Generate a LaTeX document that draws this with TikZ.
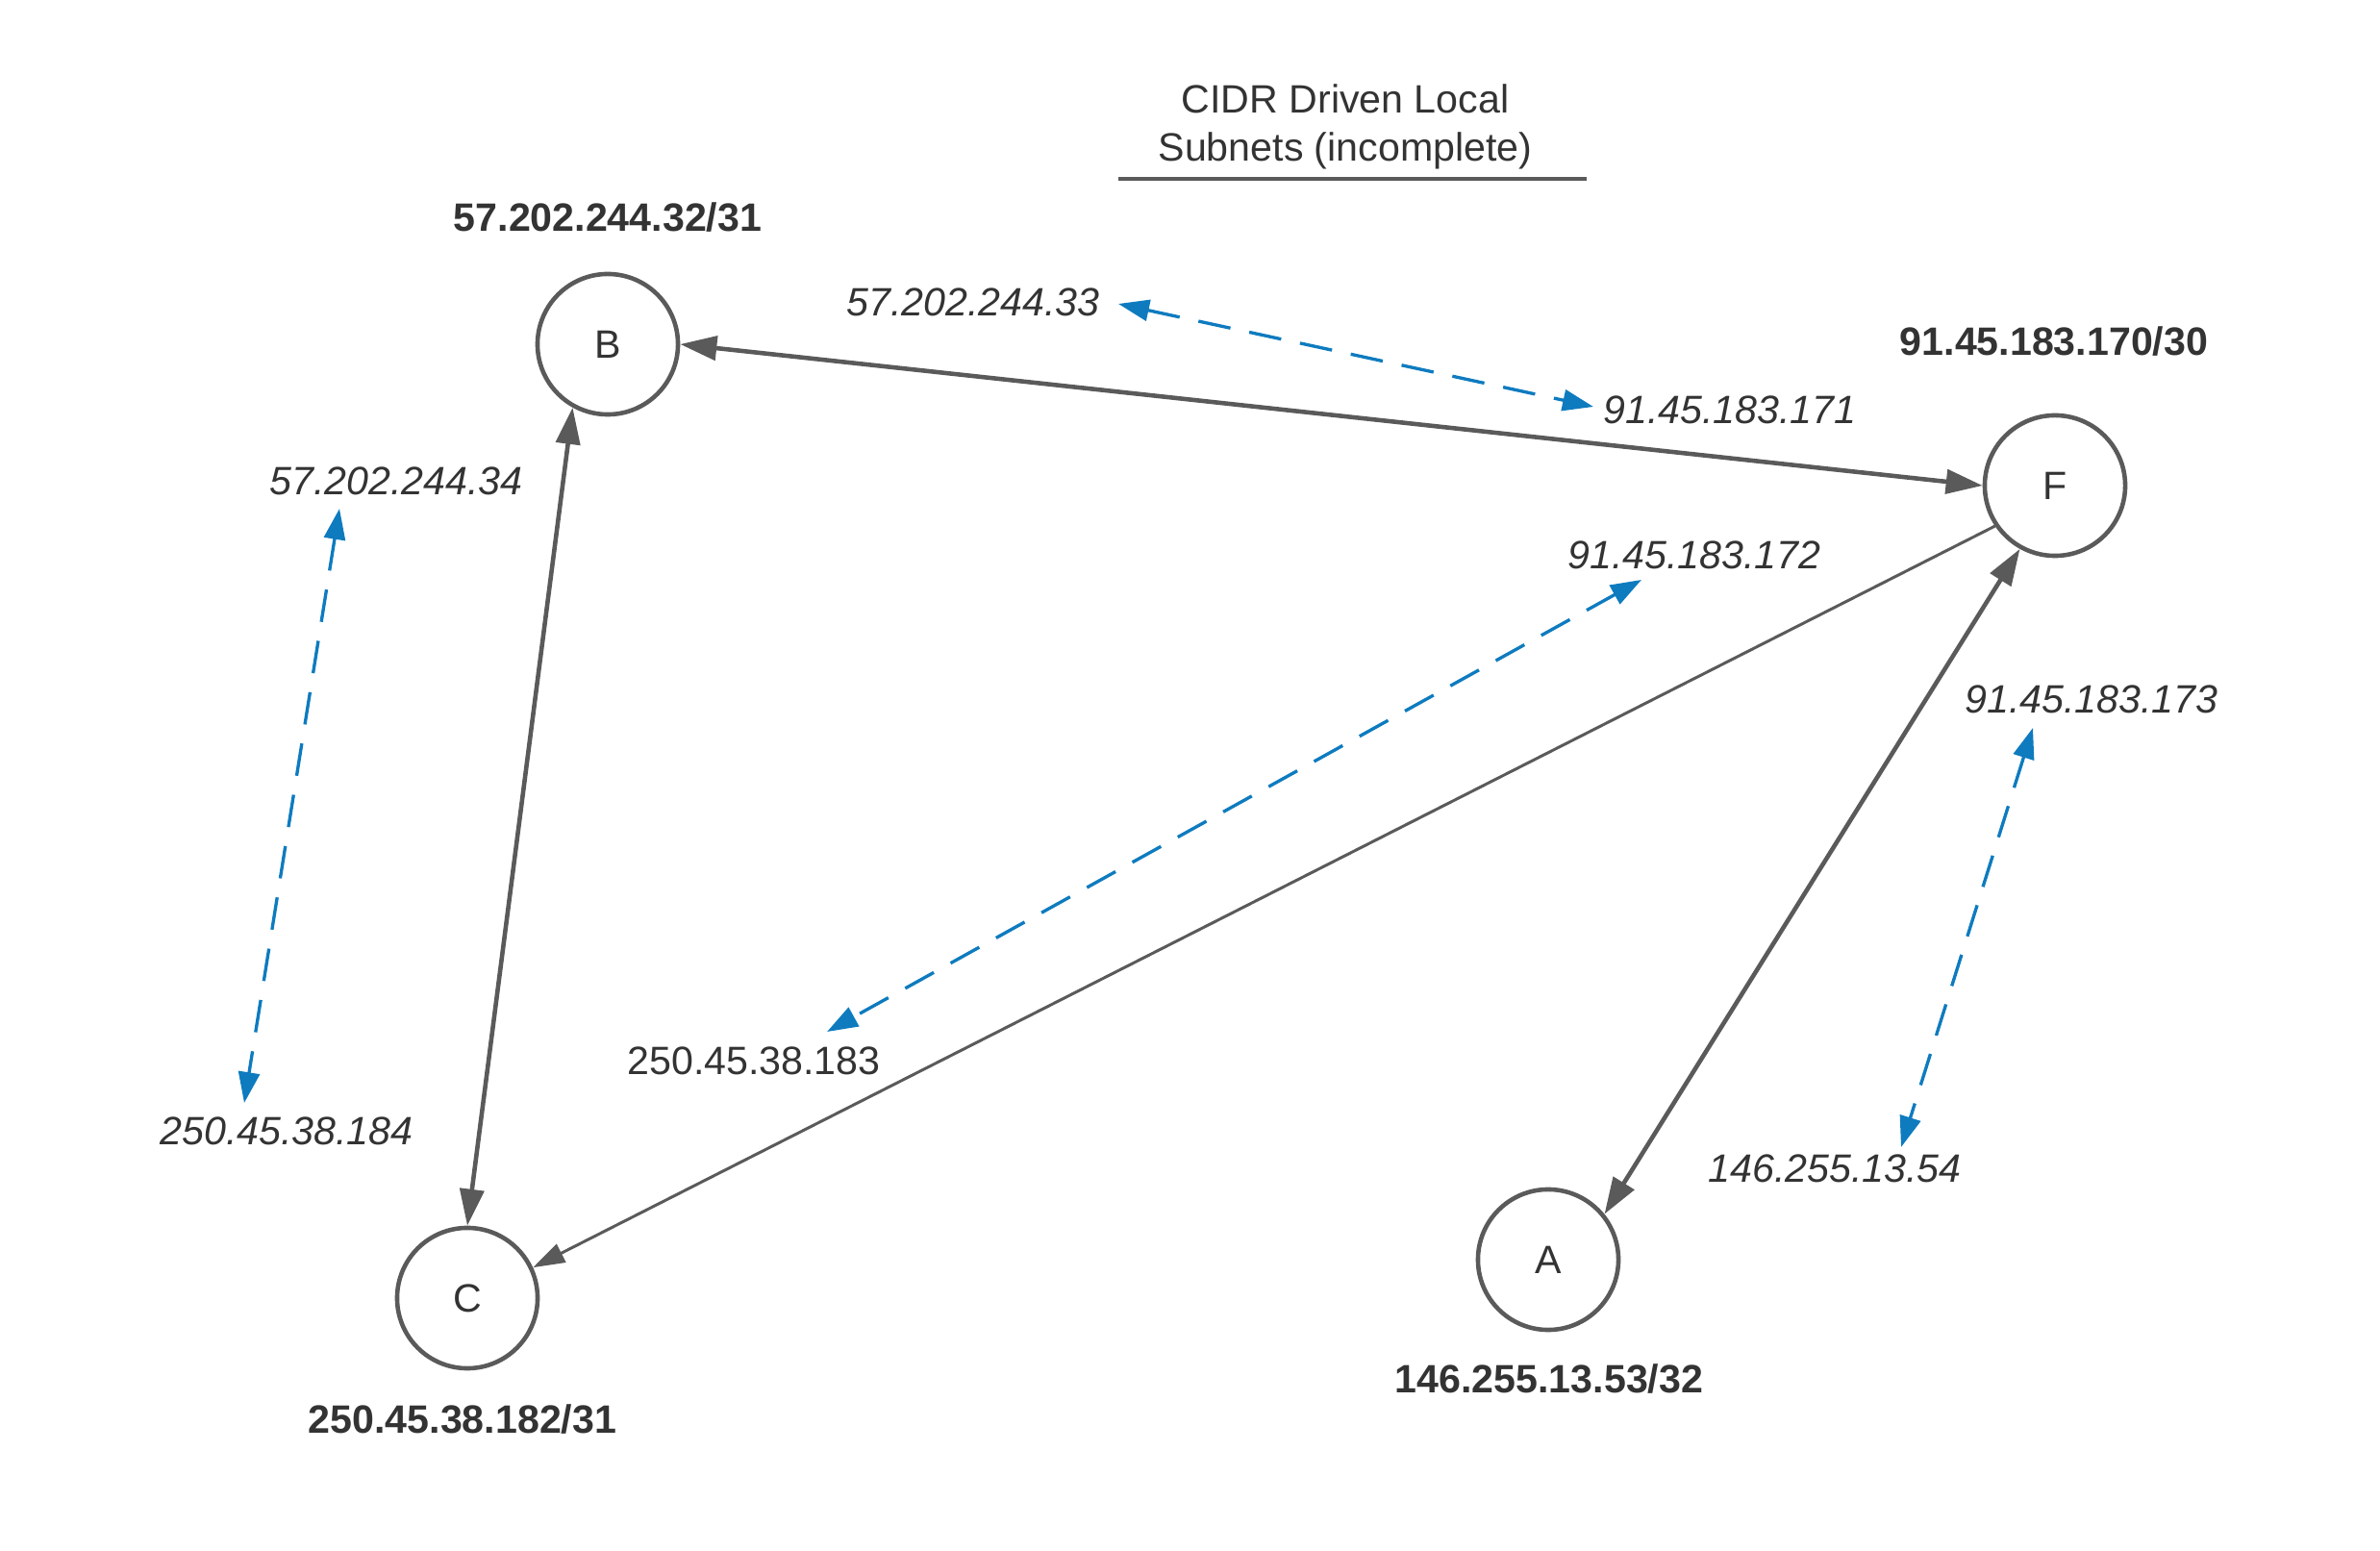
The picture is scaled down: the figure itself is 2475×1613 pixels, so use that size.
\documentclass[tikz,border=0pt]{standalone}
\usepackage{fontspec}
\setmainfont{Liberation Sans}
\definecolor{linegray}{RGB}{90, 90, 90}
\definecolor{textdark}{RGB}{51, 51, 51}
\definecolor{ipblue}{RGB}{14, 123, 191}
\usetikzlibrary{arrows.meta}
\newcommand{\ipsize}{\fontsize{11.7}{14.2}\selectfont}

\begin{document}
\begin{tikzpicture}[x=0.01cm, y=-0.01cm,
  host/.style={circle, draw=linegray, line width=1.3pt, minimum size=1.46cm, inner sep=0pt, text=textdark, font=\ipsize},
  subnet/.style={anchor=base, inner sep=0pt, text=textdark, font=\bfseries\ipsize},
  addr/.style={anchor=base, inner sep=0pt, text=textdark, font=\itshape\ipsize},
  link/.style={draw=linegray, line width=1.3pt, >={Triangle[length=0.38cm, width=0.25cm]}},
  thinlink/.style={draw=linegray, line width=0.85pt, >={Triangle[length=0.33cm, width=0.21cm]}},
  pair/.style={draw=ipblue, line width=0.95pt, dash pattern=on 0.34cm off 0.2cm, >={Triangle[length=0.32cm, width=0.22cm]}, <->}]
  \useasboundingbox (0,0) rectangle (2475,1613);

  % title
  \node[align=center, inner sep=0pt, text=textdark, font=\ipsize] (title) at (1399,132) {CIDR Driven Local\\Subnets (incomplete)};
  \draw[linegray, line width=1.3pt] (1163,186) -- (1650,186);

  % hosts
  \node[host] (B) at (632,358) {B};
  \node[host] (F) at (2137,505) {F};
  \node[host] (C) at (486,1350) {C};
  \node[host] (A) at (1610,1310) {A};

  \node[subnet] (netB) at (632,241) {57.202.244.32/31};
  \node[subnet] (netF) at (2136,370) {91.45.183.170/30};
  \node[subnet] (netC) at (481,1490) {250.45.38.182/31};
  \node[subnet] (netA) at (1611,1448) {146.255.13.53/32};

  \draw[link, <->] (B.east) -- (F.west);
  \draw[link, <->] (B.241) -- (C.north);
  \draw[thinlink, ->] (F.214) -- (C.25);
  \draw[link, <->] (F.241) -- (A.39);

  % point-to-point addresses
  \node[addr] (ipB1) at (1012,329) {57.202.244.33};
  \node[addr] (ipF1) at (1799,441) {91.45.183.171};
  \node[addr] (ipB2) at (412,515) {57.202.244.34};
  \node[addr] (ipC1) at (298,1191) {250.45.38.184};
  \node[addr] (ipF2) at (1762,592) {91.45.183.172};
  \node[addr, font=\ipsize] (ipC2) at (784,1118) {250.45.38.183};
  \node[addr] (ipF3) at (2175,742) {91.45.183.173};
  \node[addr] (ipA1) at (1908,1230) {146.255.13.54};

  \coordinate (eB1) at (1163,316);
  \coordinate (eF1) at (1657,423);
  \coordinate (eB2) at (353,529);
  \coordinate (eC1) at (254,1147);
  \coordinate (eF2) at (1707,603);
  \coordinate (eC2) at (860,1073);
  \coordinate (eF3) at (2114,757);
  \coordinate (eA1) at (1977,1193);

  \draw[pair] (eB1) -- (eF1);
  \draw[pair] (eB2) -- (eC1);
  \draw[pair] (eF2) -- (eC2);
  \draw[pair] (eF3) -- (eA1);
\end{tikzpicture}
\end{document}
